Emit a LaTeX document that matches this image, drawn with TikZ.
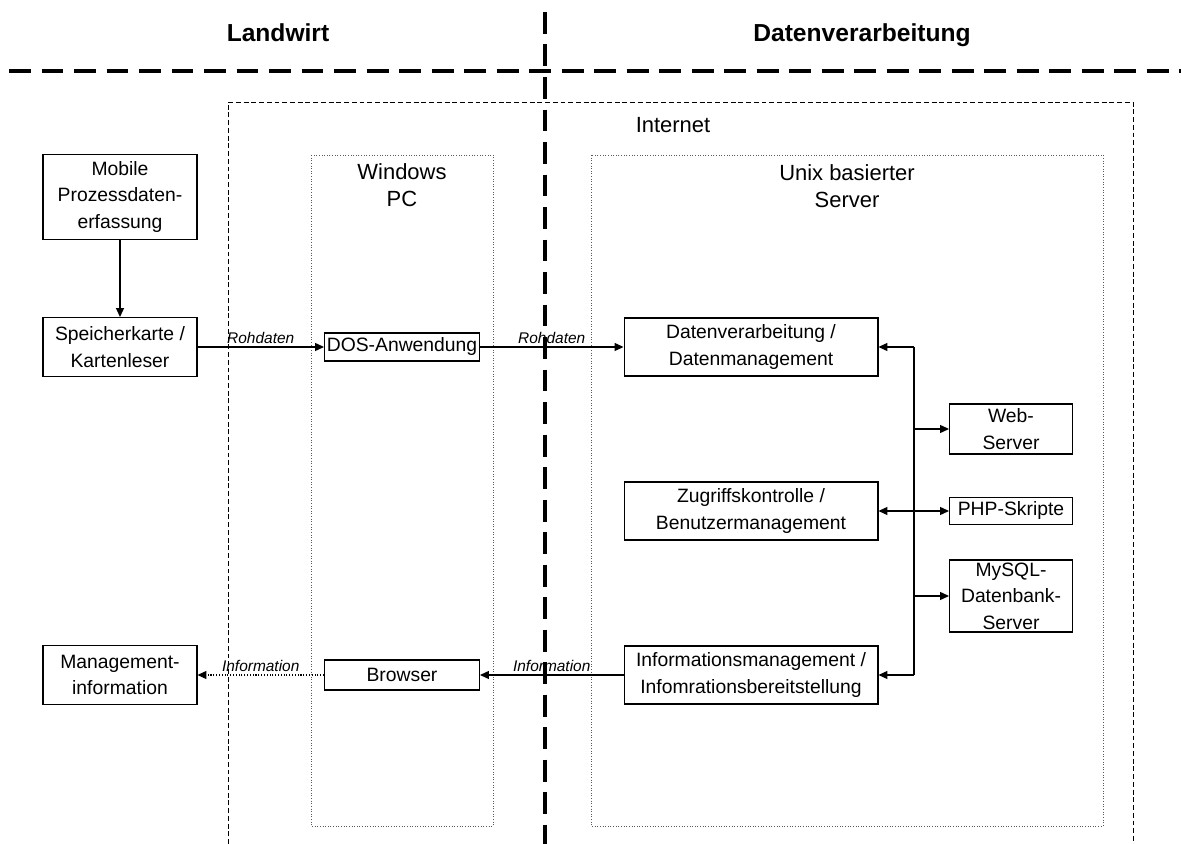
\documentclass[tikz,border=0pt]{standalone}
\usepackage{fontspec}
\setmainfont{Liberation Sans}
\usetikzlibrary{arrows.meta, positioning}
\tikzset{
  box/.style={draw, line width=0.6pt, align=center, inner sep=1pt, font=\fontsize{11}{15}\selectfont},
  lbl/.style={font=\fontsize{8.8}{10}\selectfont\itshape, above, inner sep=1.5pt},
  arr/.style={line width=0.6pt, -{Triangle[length=5pt,width=4.5pt]}},
  biarr/.style={line width=0.6pt, {Triangle[length=5pt,width=4.5pt]}-{Triangle[length=5pt,width=4.5pt]}},
  realm/.style={draw, densely dotted, gray!70!black, line width=0.5pt},
  bigdash/.style={line width=1.8pt, dash pattern=on 12.5pt off 6pt},
  heading/.style={font=\fontsize{14}{16}\selectfont\bfseries, anchor=base}
}

\begin{document}
\begin{tikzpicture}[x=0.02cm, y=-0.02cm]
  \useasboundingbox (0,0) rectangle (1181,844);
  % headings and separators
  \node[heading] (hlw) at (278,42) {Landwirt};
  \node[heading] (hdv) at (862,42) {Datenverarbeitung};
  \draw[bigdash] (9,71) -- (1181,71);
  \draw[bigdash] (545,12) -- (545,844);
  % internet and machines
  \draw[line width=0.5pt, dash pattern=on 2.8pt off 1.6pt] (228,844) -- (228,102) -- (1133,102) -- (1133,844);
  \node[font=\fontsize{12.5}{15}\selectfont] (inet) at (673,125) {Internet};
  \draw[realm] (311,155) rectangle (493,826);
  \draw[realm] (591,155) rectangle (1103,826);
  \node[font=\fontsize{12.5}{15}\selectfont, align=center] (wpc) at (402,185) {Windows\\PC};
  \node[font=\fontsize{12.5}{15}\selectfont, align=center] (usrv) at (847,186) {Unix basierter\\Server};
  % farmer side
  \node[box, minimum width=3.08cm, minimum height=1.7cm] (mpd) at (120,197) {Mobile\\Prozessdaten-\\erfassung};
  \node[box, minimum width=3.08cm, minimum height=1.18cm] (skl) at (120,347) {Speicherkarte /\\Kartenleser};
  \node[box, minimum width=3.08cm, minimum height=1.18cm] (mgi) at (120,675) {Management-\\information};
  \node[box, minimum width=3.1cm, minimum height=0.56cm] (dos) at (402,347) {DOS-Anwendung};
  \node[box, minimum width=3.1cm, minimum height=0.6cm] (brw) at (402,675) {Browser};
  % server side
  \node[box, minimum width=5.08cm, minimum height=1.16cm] (dvm) at (751,347) {Datenverarbeitung /\\Datenmanagement};
  \node[box, minimum width=5.08cm, minimum height=1.16cm] (zbm) at (751,511) {Zugriffskontrolle /\\Benutzermanagement};
  \node[box, minimum width=5.08cm, minimum height=1.16cm] (imb) at (751,675) {Informationsmanagement /\\Infomrationsbereitstellung};
  \node[box, minimum width=2.46cm, minimum height=1.0cm] (web) at (1011,429) {Web-\\Server};
  \node[box, minimum width=2.46cm, minimum height=0.54cm] (php) at (1011,511) {PHP-Skripte};
  \node[box, minimum width=2.46cm, minimum height=1.44cm] (sql) at (1011,596) {MySQL-\\Datenbank-\\Server};
  % data flow
  \draw[arr] (mpd) -- (skl);
  \draw[arr] (skl) -- node[lbl] {Rohdaten} (dos);
  \draw[arr] (dos) -- node[lbl] {Rohdaten} (dvm);
  \draw[arr] (imb) -- node[lbl] {Information} (brw);
  \draw[arr, densely dotted] (brw) -- node[lbl] {Information} (mgi);
  % server bus
  \coordinate (bustop) at (914,347);
  \coordinate (busbot) at (914,675);
  \draw[line width=0.7pt] (bustop) -- (busbot);
  \draw[arr] (bustop) -- (dvm);
  \draw[arr] (busbot) -- (imb);
  \draw[biarr] (zbm) -- (php);
  \foreach \n in {web, sql}
    \draw[arr] (bustop |- \n.west) -- (\n);
\end{tikzpicture}
\end{document}
